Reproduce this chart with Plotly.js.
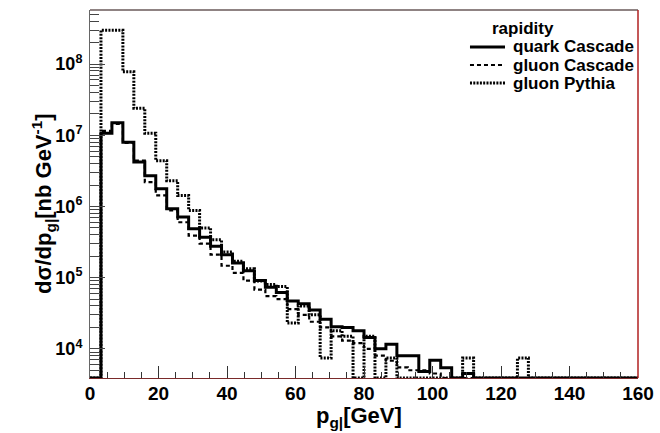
<!DOCTYPE html>
<html>
<head>
<meta charset="utf-8">
<script src="https://cdn.plot.ly/plotly-3.0.1.min.js"></script>
<style>html,body{margin:0;padding:0;background:#fff;}#chart{width:660px;height:433px;}</style>
</head>
<body>
<div id="chart"></div>
<script>
// 50 bins of 3.2 GeV from 0 to 160 GeV
const binLow = 0, binHigh = 160, nBins = 50;
const seriesNames = ["quark Cascade", "gluon Cascade", "gluon Pythia"];
const legendTitle = "rapidity";
// dσ/dp [nb/GeV], one value per bin (0 = empty bin)
const quarkCascade = [0, 1.07e7, 1.5e7, 8.0e6, 4.2e6, 2.7e6, 1.78e6, 9.3e5, 7.1e5, 4.85e5,
  3.7e5, 2.75e5, 2.1e5, 1.6e5, 1.25e5, 9.1e4, 7.3e4, 6.2e4, 4.7e4, 4.3e4,
  3.5e4, 2.6e4, 2.05e4, 2.0e4, 1.8e4, 1.44e4, 1.0e4, 1.16e4, 8.0e3, 8.0e3,
  4.8e3, 6.9e3, 5.4e3, 0, 4.5e3, 0, 0, 0, 0, 0,
  0, 0, 0, 0, 0, 0, 0, 0, 0, 0];
const gluonCascade = [0, 1.15e7, 1.45e7, 7.8e6, 4.4e6, 2.2e6, 1.43e6, 8.8e5, 6.0e5, 3.9e5,
  3.0e5, 2.1e5, 1.47e5, 1.17e5, 9.1e4, 6.8e4, 5.5e4, 5.0e4, 3.6e4, 3.0e4,
  2.4e4, 2.0e4, 1.5e4, 1.3e4, 1.2e4, 1.0e4, 8.0e3, 6.8e3, 5.5e3, 5.0e3,
  5.0e3, 4.5e3, 0, 0, 0, 0, 0, 0, 0, 0,
  0, 0, 0, 0, 0, 0, 0, 0, 0, 0];
const gluonPythia = [0, 3.0e8, 3.0e8, 7.8e7, 2.4e7, 1.07e7, 4.4e6, 2.3e6, 1.43e6, 8.8e5,
  5.0e5, 3.4e5, 2.3e5, 1.7e5, 1.33e5, 9.0e4, 8.0e4, 7.5e4, 2.3e4, 4.0e4,
  3.0e4, 7.4e3, 1.8e4, 1.5e4, 0, 1.5e4, 0, 7.4e3, 0, 0,
  0, 0, 0, 0, 7.4e3, 0, 0, 0, 0, 7.4e3,
  0, 0, 0, 0, 0, 0, 0, 0, 0, 0];
const xTickVals = [0, 20, 40, 60, 80, 100, 120, 140, 160];
const yTickVals = [1e4, 1e5, 1e6, 1e7, 1e8];
const yTickText = ["10<sup>4</sup>", "10<sup>5</sup>", "10<sup>6</sup>", "10<sup>7</sup>", "10<sup>8</sup>"];

const yLogMin = 3.59, yLogMax = 8.76;
const floorVal = Math.pow(10, yLogMin);
const width = (binHigh - binLow) / nBins;
const edges = [];
for (let i = 0; i <= nBins; i++) edges.push(binLow + i * width);

const styles = [
  {dash: "solid", width: 3},
  {dash: "4px,3px", width: 2.2},
  {dash: "2px,1.3px", width: 3}
];

function stepTrace(vals, name, st) {
  const y = vals.map(v => v > 0 ? v : floorVal);
  y.push(y[y.length - 1]);
  return {
    x: edges, y: y, type: "scatter", mode: "lines", name: name, showlegend: false,
    line: {shape: "hv", color: "#000", width: st.width, dash: st.dash},
    cliponaxis: true
  };
}

const font = {family: "Liberation Sans, Arial, sans-serif", color: "#000", weight: "bold"};
const F = (s) => Object.assign({}, font, {size: s});
const traces = [
  stepTrace(quarkCascade, seriesNames[0], styles[0]),
  stepTrace(gluonCascade, seriesNames[1], styles[1]),
  stepTrace(gluonPythia, seriesNames[2], styles[2])
];

// manual legend (ROOT-style compact box, no border)
const legRowsY = [0.8995, 0.8505, 0.8016];
const legShapes = styles.map((st, i) => ({
  type: "line", xref: "paper", yref: "paper",
  x0: 0.6934, x1: 0.7573, y0: legRowsY[i], y1: legRowsY[i],
  line: {color: "#000", width: st.width, dash: st.dash}
}));
const legAnn = seriesNames.map((n, i) => ({
  text: n, xref: "paper", yref: "paper", x: 0.7682, y: legRowsY[i],
  xanchor: "left", yanchor: "middle", showarrow: false, font: F(17)
}));
legAnn.push({text: legendTitle, xref: "paper", yref: "paper", x: 0.79, y: 0.951,
  xanchor: "center", yanchor: "middle", showarrow: false, font: F(17)});
legAnn.push({text: "dσ/dp<sub>g|</sub>[nb GeV<sup>-1</sup>]", xref: "paper", yref: "paper",
  x: -0.0858, y: 0.4755, xanchor: "center", yanchor: "middle", textangle: -90,
  showarrow: false, font: F(22)});
legAnn.push({text: "p<sub>g|</sub>[GeV]", xref: "paper", yref: "paper",
  x: 0.49, y: -0.062, xanchor: "center", yanchor: "top",
  showarrow: false, font: F(22)});

const layout = {
  width: 660, height: 433,
  margin: {l: 90, r: 22, t: 10, b: 55},
  paper_bgcolor: "#fff", plot_bgcolor: "#fff",
  showlegend: false,
  xaxis: {
    range: [binLow, binHigh], type: "linear",
    tickvals: xTickVals, ticks: "inside", ticklen: 12, tickcolor: "#333", tickwidth: 1,
    minor: {dtick: 5, ticks: "inside", ticklen: 6, tickcolor: "#333", tickwidth: 1, showgrid: false},
    showgrid: false, zeroline: false,
    showline: true, linecolor: "#7a2a2a", linewidth: 1, mirror: false,
    tickfont: F(19), ticklabelstandoff: -2
  },
  yaxis: {
    type: "log", range: [yLogMin, yLogMax],
    tickvals: yTickVals, ticktext: yTickText,
    ticks: "inside", ticklen: 15, tickcolor: "#444", tickwidth: 1,
    minor: {tickvals: (function(){const a=[];for(let d=3;d<=8;d++)for(let k=2;k<=9;k++)a.push(k*Math.pow(10,d));return a;})(),
            ticks: "inside", ticklen: 9, tickcolor: "#444", tickwidth: 1, showgrid: false},
    showgrid: false, zeroline: false,
    showline: true, linecolor: "#666", linewidth: 1, mirror: false,
    tickfont: F(18),
    ticklabelstandoff: 3
  },
  annotations: legAnn,
  shapes: [
    {type: "line", xref: "paper", yref: "paper", x0: 0, x1: 1, y0: 1, y1: 1, line: {color: "#6a5a5a", width: 1.5}},
    {type: "line", xref: "paper", yref: "paper", x0: 1, x1: 1, y0: 0, y1: 1, line: {color: "#b02020", width: 1.5}}
  ].concat(legShapes)
};

Plotly.newPlot("chart", traces, layout, {displayModeBar: false, staticPlot: true});
</script>
</body>
</html>
